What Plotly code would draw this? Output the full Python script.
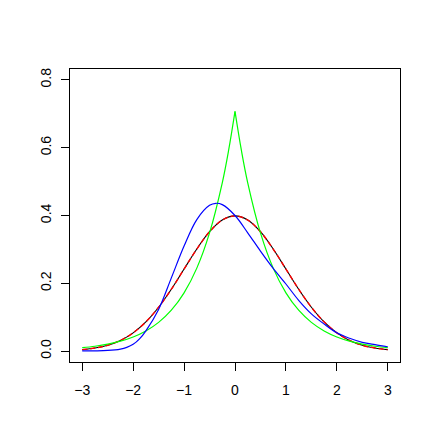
import plotly.graph_objects as go

# x grid (-3 .. 3)
x_grid = [-3, -2.75, -2.5, -2.25, -2, -1.75, -1.5, -1.25, -1, -0.75, -0.5, -0.25,
          0, 0.25, 0.5, 0.75, 1, 1.25, 1.5, 1.75, 2, 2.25, 2.5, 2.75, 3]

# black solid / red dashed (the same bell curve)
normal_y = [0.0044, 0.0091, 0.0175, 0.0317, 0.0540, 0.0863, 0.1295, 0.1826, 0.2420,
            0.3011, 0.3521, 0.3867, 0.3989, 0.3867, 0.3521, 0.3011, 0.2420, 0.1826,
            0.1295, 0.0863, 0.0540, 0.0317, 0.0175, 0.0091, 0.0044]

# green, sharp peak at 0 (left and right halves)
green_x_left = [-3, -2.75, -2.5, -2.25, -2, -1.75, -1.5, -1.25, -1, -0.75, -0.5, -0.25, -0.125, 0]
green_y_left = [0.0102, 0.0145, 0.0206, 0.0294, 0.0418, 0.0595, 0.0848, 0.1207, 0.1719,
                0.2448, 0.3487, 0.4965, 0.5925, 0.7071]
green_x_right = [0, 0.125, 0.25, 0.5, 0.75, 1, 1.25, 1.5, 1.75, 2, 2.25, 2.5, 2.75, 3]
green_y_right = [0.7071, 0.5925, 0.4965, 0.3487, 0.2448, 0.1719, 0.1207, 0.0848, 0.0595,
                 0.0418, 0.0294, 0.0206, 0.0145, 0.0102]

# blue, skewed curve
blue_x = [-3, -2.75, -2.5, -2.25, -2.125, -2, -1.875, -1.75, -1.5, -1.25, -1, -0.75, -0.5,
          -0.375, -0.25, 0, 0.25, 0.5, 0.75, 1, 1.25, 1.5, 1.75, 2, 2.25, 2.5, 2.75, 3]
blue_y = [0.001, 0.001, 0.002, 0.006, 0.011, 0.020, 0.036, 0.060, 0.123, 0.216, 0.310,
          0.388, 0.430, 0.436, 0.432, 0.400, 0.349, 0.295, 0.244, 0.198, 0.150, 0.110,
          0.080, 0.054, 0.038, 0.026, 0.019, 0.013]

x_ticks = [-3, -2, -1, 0, 1, 2, 3]
y_ticks = [0.0, 0.2, 0.4, 0.6, 0.8]
y_tick_text = ["0.0", "0.2", "0.4", "0.6", "0.8"]

fig = go.Figure()
fig.add_trace(go.Scatter(x=x_grid, y=normal_y, mode="lines",
                         line=dict(color="black", width=1.1, shape="spline")))
fig.add_trace(go.Scatter(x=x_grid, y=normal_y, mode="lines",
                         line=dict(color="#ff0000", width=1.4, shape="spline", dash="5px,3px")))
fig.add_trace(go.Scatter(x=green_x_left, y=green_y_left, mode="lines",
                         line=dict(color="#00ff00", width=1.2, shape="spline")))
fig.add_trace(go.Scatter(x=green_x_right, y=green_y_right, mode="lines",
                         line=dict(color="#00ff00", width=1.2, shape="spline")))
fig.add_trace(go.Scatter(x=blue_x, y=blue_y, mode="lines",
                         line=dict(color="#0000ff", width=1.2, shape="spline")))

axis_style = dict(showline=True, linecolor="black", linewidth=1, mirror=True,
                  ticks="outside", ticklen=8, tickwidth=1, tickcolor="black",
                  showgrid=False, zeroline=False, automargin=False,
                  tickfont=dict(family="Liberation Sans, Arial", size=14, color="black"))

# page body has an 8px margin, so the figure is shrunk by that much
fig.update_layout(
    width=428, height=440,
    margin=dict(l=62, r=36, t=61, b=86),
    plot_bgcolor="white", paper_bgcolor="white",
    showlegend=False,
    xaxis=dict(range=[-3.24, 3.24], tickvals=x_ticks, ticklabelstandoff=7, **axis_style),
    yaxis=dict(range=[-0.032, 0.832], tickvals=y_ticks, ticktext=y_tick_text,
               tickangle=-90, ticklabelstandoff=4, **axis_style),
)

fig.write_html("out.html")
